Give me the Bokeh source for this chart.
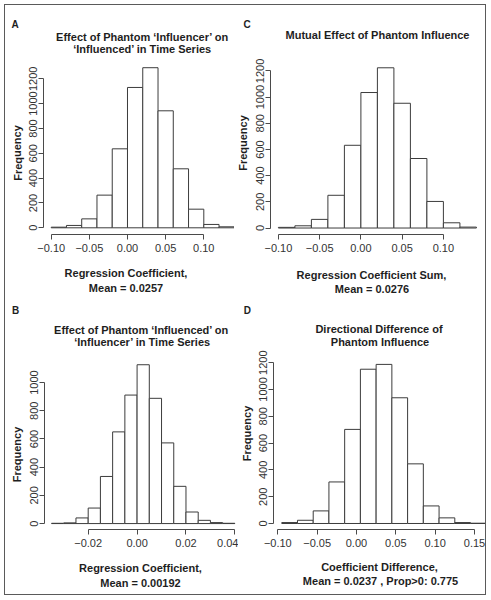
from math import pi
from bokeh.plotting import figure
from bokeh.layouts import column, row
from bokeh.models import Range1d, FixedTicker, CustomJSTickFormatter, ColumnDataSource
from bokeh.core.properties import value
from bokeh.embed import file_html
from bokeh.resources import INLINE

# ---------------- data ----------------
# Panel A
a_edges = [-0.10, -0.08, -0.06, -0.04, -0.02, 0.00, 0.02, 0.04, 0.06, 0.08, 0.10, 0.12, 0.14]
a_counts = [5, 19, 72, 263, 636, 1130, 1289, 942, 475, 150, 27, 8]
a_xticks = [-0.10, -0.05, 0.00, 0.05, 0.10]
a_xlabels = ["\u22120.10", "\u22120.05", "0.00", "0.05", "0.10"]
a_yticks = [0, 200, 400, 600, 800, 1000, 1200]
a_title = ["Effect of Phantom \u2018Influencer\u2019 on", "\u2018Influenced\u2019 in Time Series"]
a_xlab = ["Regression Coefficient,", "Mean = 0.0257"]

# Panel C
c_edges = [-0.10, -0.08, -0.06, -0.04, -0.02, 0.00, 0.02, 0.04, 0.06, 0.08, 0.10, 0.12, 0.14]
c_counts = [5, 17, 66, 250, 632, 1035, 1224, 953, 531, 203, 40, 7]
c_xticks = [-0.10, -0.05, 0.00, 0.05, 0.10]
c_xlabels = ["\u22120.10", "\u22120.05", "0.00", "0.05", "0.10"]
c_yticks = [0, 200, 400, 600, 800, 1000, 1200]
c_title = ["Mutual Effect of Phantom Influence"]
c_xlab = ["Regression Coefficient Sum,", "Mean = 0.0276"]

# Panel B
b_edges = [-0.035, -0.030, -0.025, -0.020, -0.015, -0.010, -0.005, 0.000,
           0.005, 0.010, 0.015, 0.020, 0.025, 0.030, 0.035, 0.040]
b_counts = [2, 5, 40, 110, 334, 650, 911, 1126, 888, 572, 264, 82, 23, 7, 2]
b_xticks = [-0.02, 0.00, 0.02, 0.04]
b_xlabels = ["\u22120.02", "0.00", "0.02", "0.04"]
b_yticks = [0, 200, 400, 600, 800, 1000]
b_title = ["Effect of Phantom \u2018Influenced\u2019 on", "\u2018Influencer\u2019 in Time Series"]
b_xlab = ["Regression Coefficient,", "Mean = 0.00192"]

# Panel D
d_edges = [-0.095, -0.075, -0.055, -0.035, -0.015, 0.005, 0.025, 0.045,
           0.065, 0.085, 0.105, 0.125, 0.145, 0.165]
d_counts = [7, 24, 94, 310, 702, 1151, 1187, 938, 445, 131, 42, 7, 2]
d_xticks = [-0.10, -0.05, 0.00, 0.05, 0.10, 0.15]
d_xlabels = ["\u22120.10", "\u22120.05", "0.00", "0.05", "0.10", "0.15"]
d_yticks = [0, 200, 400, 600, 800, 1000, 1200]
d_title = ["Directional Difference of", "Phantom Influence"]
d_xlab = ["Coefficient Difference,", "Mean = 0.0237 , Prop>0: 0.775"]

panel_letters = ["A", "C", "B", "D"]
ylab = "Frequency"

FONT = "Liberation Sans"
LINE = "#3c3c3c"
TXT = "#1e1e1e"


def make_panel(g, xr, yr, edges, counts, xticks, xlabels, xbounds, yticks):
    p = figure(width=g["w"], height=g["h"], x_range=Range1d(*xr), y_range=Range1d(*yr),
               output_backend="svg", toolbar_location=None, tools="",
               min_border_left=g["bl"], min_border_right=g["br"],
               min_border_top=g["bt"], min_border_bottom=g["bb"])
    p.outline_line_color = None
    p.xgrid.visible = False
    p.ygrid.visible = False
    p.quad(left=edges[:-1], right=edges[1:], bottom=0, top=counts,
           fill_color="white", line_color=LINE, line_width=1)
    fmt = CustomJSTickFormatter(args=dict(tv=xticks, tl=xlabels), code="""
        for (let i = 0; i < tv.length; i++) {
            if (Math.abs(tv[i] - tick) < 1e-9) return tl[i];
        }
        return '';
    """)
    for ax in (p.xaxis[0], p.yaxis[0]):
        ax.axis_line_color = "#4a4a4a"
        ax.major_tick_line_color = "#4a4a4a"
        ax.minor_tick_line_color = None
        ax.major_tick_out = 5
        ax.major_tick_in = 0
        ax.major_label_text_font = FONT
        ax.major_label_text_font_size = "11px"
        ax.major_label_text_color = "#333333"
    p.xaxis[0].ticker = FixedTicker(ticks=xticks)
    p.xaxis[0].formatter = fmt
    p.xaxis[0].bounds = xbounds
    p.xaxis[0].major_label_standoff = 4
    p.yaxis[0].ticker = FixedTicker(ticks=yticks)
    p.yaxis[0].bounds = (yticks[0], yticks[-1])
    p.yaxis[0].major_label_orientation = "vertical"
    p.yaxis[0].major_label_standoff = 1
    return p


# geometry (page pixels; content origin at page (5, 5))
OX, OY = 5, 5
W, H = 480, 589
gA = dict(x=5, y=5, w=229, h=291, bl=38, br=0, bt=56, bb=62)
gC = dict(x=234, y=5, w=251, h=291, bl=36, br=1, bt=43, bb=61)
gB = dict(x=5, y=296, w=233, h=298, bl=39, br=0, bt=62, bb=63)
gD = dict(x=238, y=296, w=247, h=298, bl=35, br=0, bt=42, bb=65)

pA = make_panel(gA, (-0.11009, 0.14024), (-53.9, 1339.0), a_edges, a_counts,
                a_xticks, a_xlabels, (-0.10, 0.10), a_yticks)
pC = make_panel(gC, (-0.10958, 0.14981), (-49.5, 1272.0), c_edges, c_counts,
                c_xticks, c_xlabels, (-0.10, 0.10), c_yticks)
pB = make_panel(gB, (-0.03787, 0.04148), (-42.0, 1170.3), b_edges, b_counts,
                b_xticks, b_xlabels, (-0.02, 0.04), b_yticks)
pD = make_panel(gD, (-0.10547, 0.16402), (-44.8, 1231.0), d_edges, d_counts,
                d_xticks, d_xlabels, (-0.10, 0.15), d_yticks)

# transparent text layer laid over the four panels (pixel coordinates)
ov = figure(width=W, height=H, x_range=Range1d(0, W), y_range=Range1d(0, H),
            output_backend="svg", toolbar_location=None, tools="",
            x_axis_type=None, y_axis_type=None,
            min_border=0, min_border_left=0, min_border_right=0,
            min_border_top=0, min_border_bottom=0,
            styles={"margin-top": f"-{H}px"})
ov.outline_line_color = None
ov.xgrid.visible = False
ov.ygrid.visible = False
ov.background_fill_alpha = 0
ov.border_fill_alpha = 0

items = []  # (page X, page Y, text, size, align, angle)
items += [(11, 24, panel_letters[0], 10, "left", 0.0),
          (243, 24, panel_letters[1], 10, "left", 0.0),
          (11.5, 310, panel_letters[2], 10, "left", 0.0),
          (243.3, 310, panel_letters[3], 10, "left", 0.0)]
items += [(142, 36, a_title[0], 11, "center", 0.0),
          (142, 48.7, a_title[1], 11, "center", 0.0),
          (17, 152.5, ylab, 11, "center", pi / 2),
          (125.5, 272.5, a_xlab[0], 11, "center", 0.0),
          (125.5, 287.3, a_xlab[1], 11, "center", 0.0)]
items += [(377, 34, c_title[0], 11, "center", 0.0),
          (242.7, 142.5, ylab, 11, "center", pi / 2),
          (371, 274, c_xlab[0], 11, "center", 0.0),
          (371.5, 288.3, c_xlab[1], 11, "center", 0.0)]
items += [(141, 329.3, b_title[0], 11, "center", 0.0),
          (142, 341.7, b_title[1], 11, "center", 0.0),
          (16.3, 454, ylab, 11, "center", pi / 2),
          (140, 567.7, b_xlab[0], 11, "center", 0.0),
          (140, 582.3, b_xlab[1], 11, "center", 0.0)]
items += [(378.5, 328, d_title[0], 11, "center", 0.0),
          (379.5, 341.7, d_title[1], 11, "center", 0.0),
          (246.3, 433, ylab, 11, "center", pi / 2),
          (379, 566, d_xlab[0], 11, "center", 0.0),
          (380, 580, d_xlab[1], 11, "center", 0.0)]

src = ColumnDataSource(dict(
    x=[it[0] - OX for it in items],
    y=[H - (it[1] - OY) for it in items],
    text=[it[2] for it in items],
    size=[f"{it[3]}px" for it in items],
    align=[it[4] for it in items],
    angle=[it[5] for it in items],
))
ov.text(x="x", y="y", text="text", source=src, text_font=value(FONT),
        text_font_size="size", text_font_style="bold", text_align="align",
        text_baseline="alphabetic", angle="angle", text_color=TXT)

panels = column(row(pA, pC), row(pB, pD))
layout = column(panels, ov,
                styles={"border": "1px solid #5a5a5a", "margin-left": "4px", "margin-top": "4px",
                        "background-color": "white"})

open("out.html", "w").write(file_html(layout, INLINE))
